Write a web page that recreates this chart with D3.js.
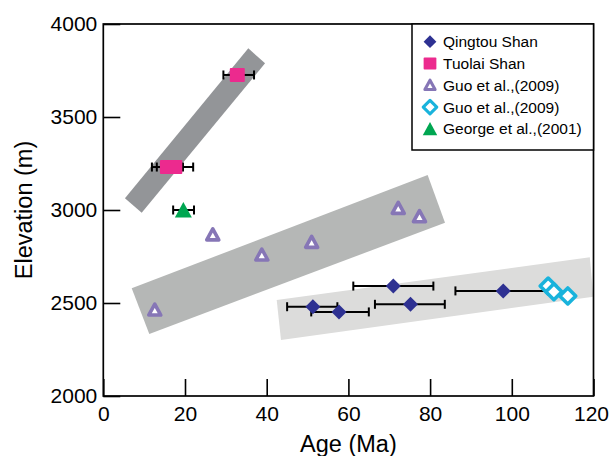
<!DOCTYPE html>
<html>
<head>
<meta charset="utf-8">
<script src="https://cdn.jsdelivr.net/npm/d3@7"></script>
<style>
  html, body { margin: 0; padding: 0; background: #fff; }
  svg { display: block; font-family: "Liberation Sans", Arial, sans-serif; }
</style>
</head>
<body>
<div id="chart"></div>
<script>
// data
const xTicks = [0, 20, 40, 60, 80, 100, 120];
const yTicks = [2000, 2500, 3000, 3500, 4000];

const qingtouAge  = [51.3, 57.7, 71.0, 75.2, 97.9];
const qingtouElev = [2480, 2452, 2591, 2493, 2565];
const qingtouLo   = [45.0, 50.9, 61.2, 66.5, 86.2];
const qingtouHi   = [57.3, 65.0, 80.8, 83.6, 109.6];

const tuolaiAge  = [32.8, 15.7, 17.5];
const tuolaiElev = [3726, 3231, 3231];
const tuolaiLo   = [29.4, 11.9, 13.1];
const tuolaiHi   = [36.9, 19.5, 22.0];

const guoTriAge  = [12.6, 26.8, 38.8, 51.0, 72.2, 77.4];
const guoTriElev = [2462, 2866, 2758, 2826, 3009, 2964];

const guoDiaAge  = [108.9, 110.3, 113.7];
const guoDiaElev = [2591, 2561, 2538];

const georgeAge  = [19.6];
const georgeElev = [3000];
const georgeLo   = [17.1];
const georgeHi   = [22.2];

// trend bands (age, elevation corners)
const band1 = [[35.5, 3869], [39.6, 3789], [9.4, 2985], [5.3, 3063]];
const band2 = [[79.4, 3188], [83.65, 2932], [11.26, 2333], [6.95, 2579]];
const band3 = [[42.45, 2516], [119.1, 2746], [119.95, 2534], [43.5, 2301]];

const legendLabels = ["Qingtou Shan", "Tuolai Shan", "Guo et al.,(2009)", "Guo et al.,(2009)", "George et al.,(2001)"];

const navy = "#2e3192", pink = "#ec2a8e", purple = "#8676b6", cyan = "#19b3dc", green = "#00a651";

const W = 610, H = 456;
const margin = { top: 24, left: 103.3, right: 16.5, bottom: 60 };
const width = W - margin.left - margin.right,
      height = H - margin.top - margin.bottom;

const svg = d3.select("#chart").append("svg")
    .attr("width", W)
    .attr("height", H);

const x = d3.scaleLinear().domain([0, 120]).range([margin.left, margin.left + width]);
const y = d3.scaleLinear().domain([2000, 4000]).range([margin.top + height, margin.top]);

// bands
const line = d3.line().x(d => x(d[0])).y(d => y(d[1]));
[[band1, "#939598"], [band2, "#b5b7b6"], [band3, "#dcdcdb"]].forEach(([pts, col]) => {
    svg.append("path")
       .attr("d", line(pts) + "Z")
       .attr("fill", col);
});

// axes (ticks point inward)
svg.append("g")
   .attr("transform", `translate(0,${margin.top + height})`)
   .call(d3.axisBottom(x).tickValues(xTicks).tickFormat(d3.format("d"))
           .tickSizeInner(-17).tickSizeOuter(0).tickPadding(10.5))
   .call(g => g.select(".domain").remove())
   .call(g => g.selectAll("line").attr("stroke-width", 1.6))
   .call(g => g.selectAll("text").attr("font-size", 21).attr("fill", "#000"))
   .call(g => g.selectAll("text").filter(d => d === 120).attr("dx", -2.5));

svg.append("g")
   .attr("transform", `translate(${margin.left},0)`)
   .call(d3.axisLeft(y).tickValues(yTicks).tickFormat(d3.format("d"))
           .tickSizeInner(-17).tickSizeOuter(0).tickPadding(6))
   .call(g => g.select(".domain").remove())
   .call(g => g.selectAll("line").attr("stroke-width", 1.6))
   .call(g => g.selectAll("text").attr("font-size", 21).attr("fill", "#000"));

svg.append("rect")
   .attr("x", margin.left).attr("y", margin.top)
   .attr("width", width).attr("height", height)
   .attr("fill", "none").attr("stroke", "#000").attr("stroke-width", 1.7);

// axis titles
svg.append("text")
   .attr("x", x(60)).attr("y", 452)
   .attr("text-anchor", "middle")
   .attr("font-size", 23.5)
   .text("Age (Ma)");

svg.append("text")
   .attr("transform", `translate(32,${y(3000)}) rotate(-90)`)
   .attr("text-anchor", "middle")
   .attr("font-size", 23.5)
   .text("Elevation (m)");

// error bars
function errorBars(lo, hi, elev) {
    const g = svg.append("g").attr("stroke", "#000").attr("stroke-width", 2);
    lo.forEach((l, i) => {
        const yy = y(elev[i]);
        g.append("line").attr("x1", x(l)).attr("x2", x(hi[i])).attr("y1", yy).attr("y2", yy);
        g.append("line").attr("x1", x(l)).attr("x2", x(l)).attr("y1", yy - 4.5).attr("y2", yy + 4.5);
        g.append("line").attr("x1", x(hi[i])).attr("x2", x(hi[i])).attr("y1", yy - 4.5).attr("y2", yy + 4.5);
    });
}
errorBars(qingtouLo, qingtouHi, qingtouElev);
errorBars(tuolaiLo, tuolaiHi, tuolaiElev);
errorBars(georgeLo, georgeHi, georgeElev);

// marker shapes
const shapes = {
    diamond: (g, c) => g.append("path").attr("d", "M0,-7.5L7.5,0L0,7.5L-7.5,0Z").attr("fill", c),
    square: (g, c) => g.append("rect").attr("x", -7.5).attr("y", -7).attr("width", 15).attr("height", 14).attr("rx", 1).attr("fill", c),
    openTri: (g, c) => g.append("path").attr("d", "M0,-6L6,5L-6,5Z").attr("fill", "#fff")
                        .attr("stroke", c).attr("stroke-width", 3.6).attr("stroke-linejoin", "round"),
    openDia: (g, c) => g.append("path").attr("d", "M0,-8L8,0L0,8L-8,0Z").attr("fill", "#fff")
                        .attr("stroke", c).attr("stroke-width", 3.6).attr("stroke-linejoin", "round"),
    tri: (g, c) => g.append("path").attr("d", "M0,-8L8.5,7.5L-8.5,7.5Z").attr("fill", c)
};

function points(ages, elevs, shape, col) {
    ages.forEach((a, i) => {
        const g = svg.append("g").attr("transform", `translate(${x(a)},${y(elevs[i])})`);
        shapes[shape](g, col);
    });
}
points(guoTriAge, guoTriElev, "openTri", purple);
points(georgeAge, georgeElev, "tri", green);
points(tuolaiAge, tuolaiElev, "square", pink);
points(qingtouAge, qingtouElev, "diamond", navy);
points(guoDiaAge, guoDiaElev, "openDia", cyan);

// legend
const legend = svg.append("g");
legend.append("rect")
      .attr("x", 412).attr("y", margin.top)
      .attr("width", margin.left + width - 412).attr("height", 126)
      .attr("fill", "#fff").attr("stroke", "#000").attr("stroke-width", 1.5);

const legendShapes = [["diamond", navy], ["square", pink], ["openTri", purple], ["openDia", cyan], ["tri", green]];
legendLabels.forEach((lab, i) => {
    const yy = 41.7 + i * 21.8;
    const g = legend.append("g").attr("transform", `translate(430,${yy}) scale(0.85)`);
    shapes[legendShapes[i][0]](g, legendShapes[i][1]);
    legend.append("text")
          .attr("x", 443).attr("y", yy)
          .attr("dy", "0.36em")
          .attr("font-size", 15.5)
          .text(lab);
});
</script>
</body>
</html>
